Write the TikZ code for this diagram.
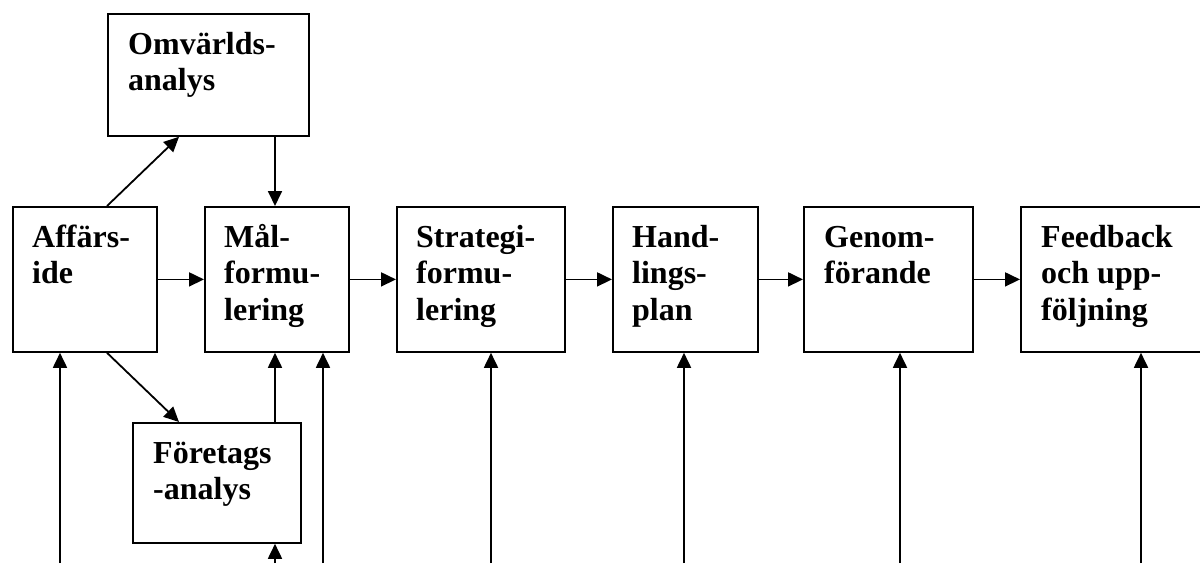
\documentclass[tikz,border=0pt]{standalone}
\usepackage{fontspec}
\setmainfont{Liberation Serif}
\usetikzlibrary{arrows.meta,calc}
\begin{document}
\begin{tikzpicture}[x=1pt,y=-1pt,
  box/.style={draw=black,line width=1.8pt,rectangle,anchor=north west,inner sep=0pt,fill=white},
  lbl/.style={anchor=north west,inner sep=0pt,align=left,font=\fontsize{32}{36.5}\selectfont\bfseries},
  arr/.style={line width=1.8pt,-{Triangle[length=15pt,width=14pt]}}]
\useasboundingbox (0,0) rectangle (1200,563);
\clip (0,0) rectangle (1200,563);
% boxes
\node[box,minimum width=201pt,minimum height=122pt] (omv) at (107,13) {};
\node[box,minimum width=144pt,minimum height=145pt] (aff) at (12,206) {};
\node[box,minimum width=144pt,minimum height=145pt] (mal) at (204,206) {};
\node[box,minimum width=168pt,minimum height=145pt] (str) at (396,206) {};
\node[box,minimum width=145pt,minimum height=145pt] (han) at (612,206) {};
\node[box,minimum width=169pt,minimum height=145pt] (gen) at (803,206) {};
\node[box,minimum width=195pt,minimum height=145pt] (fee) at (1020,206) {};
\node[box,minimum width=168pt,minimum height=120pt] (for) at (132,422) {};
% labels
\node[lbl] (omvt) at ($(omv.north west)+(21,15)$) {\rule{0pt}{26pt}Omvärlds-\\analys};
\node[lbl] (afft) at ($(aff.north west)+(20,15)$) {\rule{0pt}{26pt}Affärs-\\ide};
\node[lbl] (malt) at ($(mal.north west)+(20,15)$) {\rule{0pt}{26pt}Mål-\\formu-\\lering};
\node[lbl] (strt) at ($(str.north west)+(20,15)$) {\rule{0pt}{26pt}Strategi-\\formu-\\lering};
\node[lbl] (hant) at ($(han.north west)+(20,15)$) {\rule{0pt}{26pt}Hand-\\lings-\\plan};
\node[lbl] (gent) at ($(gen.north west)+(21,15)$) {\rule{0pt}{26pt}Genom-\\förande};
\node[lbl] (feet) at ($(fee.north west)+(21,15)$) {\rule{0pt}{26pt}Feedback\\och upp-\\följning};
\node[lbl] (fort) at ($(for.north west)+(21,15)$) {\rule{0pt}{26pt}Företags\\-analys};
% horizontal arrows
\draw[arr] (aff.east) -- (mal.west);
\draw[arr] (mal.east) -- (str.west);
\draw[arr] (str.east) -- (han.west);
\draw[arr] (han.east) -- (gen.west);
\draw[arr] (gen.east) -- (fee.west);
% diagonal arrows
\draw[arr] ([xshift=95pt]aff.north west) -- ([xshift=72pt]omv.south west);
\draw[arr] ([xshift=95pt]aff.south west) -- ([xshift=47pt]for.north west);
% vertical arrows
\draw[arr] ([xshift=71pt]mal.north west |- omv.south) -- ([xshift=71pt]mal.north west);
\draw[arr] ([xshift=143pt]for.north west) -- ([xshift=71pt]mal.south west);
% bottom arrows
\coordinate (b1) at (60,563);
\coordinate (b2) at (275,563);
\coordinate (b3) at (323,563);
\coordinate (b4) at (491,563);
\coordinate (b5) at (684,563);
\coordinate (b6) at (900,563);
\coordinate (b7) at (1141,563);
\draw[arr] (b1) -- (b1 |- aff.south);
\draw[arr] (b2) -- (b2 |- for.south);
\draw[arr] (b3) -- (b3 |- mal.south);
\draw[arr] (b4) -- (b4 |- str.south);
\draw[arr] (b5) -- (b5 |- han.south);
\draw[arr] (b6) -- (b6 |- gen.south);
\draw[arr] (b7) -- (b7 |- fee.south);
\end{tikzpicture}
\end{document}
